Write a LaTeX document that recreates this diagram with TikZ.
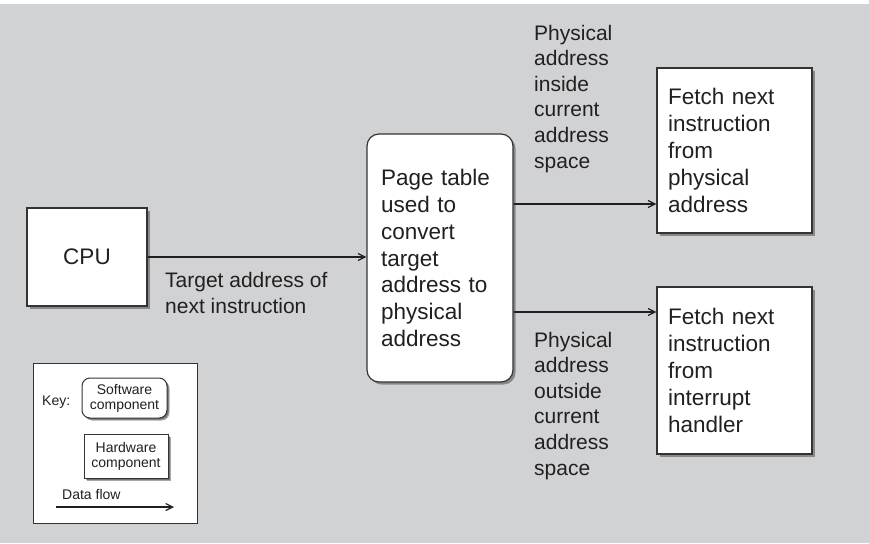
\documentclass[tikz,border=0pt]{standalone}
\usepackage{fontspec}
\setmainfont{Liberation Sans}
\usetikzlibrary{arrows.meta,shadows}
\definecolor{bgc}{HTML}{D1D2D4}
\definecolor{ln}{HTML}{333333}
\definecolor{tx}{HTML}{231F20}
\begin{document}
\begin{tikzpicture}[x=1pt,y=-1pt,
  shad/.style={drop shadow={shadow xshift=2.5pt,shadow yshift=-2.5pt,fill=black,opacity=0.35}},
  hwbox/.style={draw=ln, line width=1.2pt, fill=white, text=tx, shad},
  swbox/.style={hwbox, rounded corners=12pt},
  big/.style={font=\fontsize{22.5}{26.8}\selectfont},
  lab/.style={font=\fontsize{21}{25.6}\selectfont, text=tx, inner sep=0pt, align=left, anchor=base west},
  small/.style={font=\fontsize{14}{15}\selectfont, text=tx},
  flow/.style={draw=tx, line width=1.8pt, -{Straight Barb[length=7pt,width=7pt,line width=1.2pt]}}
]
\useasboundingbox (0,0) rectangle (869,543);
\fill[bgc] (0,4) rectangle (869,543);

% main nodes
\node[hwbox, big, minimum width=120pt, minimum height=98pt, inner sep=0pt] (cpu) at (87,257) {CPU};
\node[swbox, big, text width=118pt, inner xsep=14pt, minimum height=248pt, align=left] (pt) at (440,258)
  {Page table\\used to\\convert\\target\\address to\\physical\\address};
\node[hwbox, big, text width=133pt, inner xsep=11pt, minimum height=165pt, align=left] (f1) at (734.5,150.5)
  {Fetch next\\instruction\\from\\physical\\address};
\node[hwbox, big, text width=133pt, inner xsep=11pt, minimum height=167pt, align=left] (f2) at (734.5,370.5)
  {Fetch next\\instruction\\from\\interrupt\\handler};

% connectors
\draw[flow] (cpu.east |- 0,257) -- (pt.west |- 0,257);
\draw[flow] (pt.east |- 0,204) -- (f1.west |- 0,204);
\draw[flow] (pt.east |- 0,312) -- (f2.west |- 0,312);

% labels (base anchor = last line's baseline)
\node[lab] (tl) at (165,313) {Target address of\\next instruction};
\node[lab] (l1) at (534,168) {Physical\\address\\inside\\current\\address\\space};
\node[lab] (l2) at (534,475) {Physical\\address\\outside\\current\\address\\space};

% key
\node[draw=ln, line width=1pt, fill=white, minimum width=164pt, minimum height=160pt, inner sep=0pt] (key) at (115,443) {};
\node[small, anchor=base west, inner sep=0pt] (keyt) at (42,405) {Key:};
\node[swbox, small, rounded corners=8pt, line width=1pt, minimum width=85pt, minimum height=40pt, inner sep=0pt, align=center,
  drop shadow={shadow xshift=1.5pt,shadow yshift=-1.5pt,fill=black,opacity=0.3}] (ksw) at (124.5,398) {Software\\component};
\node[hwbox, small, line width=1pt, minimum width=84pt, minimum height=44pt, inner sep=0pt, align=center,
  drop shadow={shadow xshift=2pt,shadow yshift=-2pt,fill=black,opacity=0.3}] (khw) at (126,456) {Hardware\\component};
\node[small, anchor=base west, inner sep=0pt] (kdf) at (62,499) {Data flow};
\coordinate (ka) at (56,507);
\coordinate (kb) at (174,507);
\draw[flow] (ka) -- (kb);
\end{tikzpicture}
\end{document}
